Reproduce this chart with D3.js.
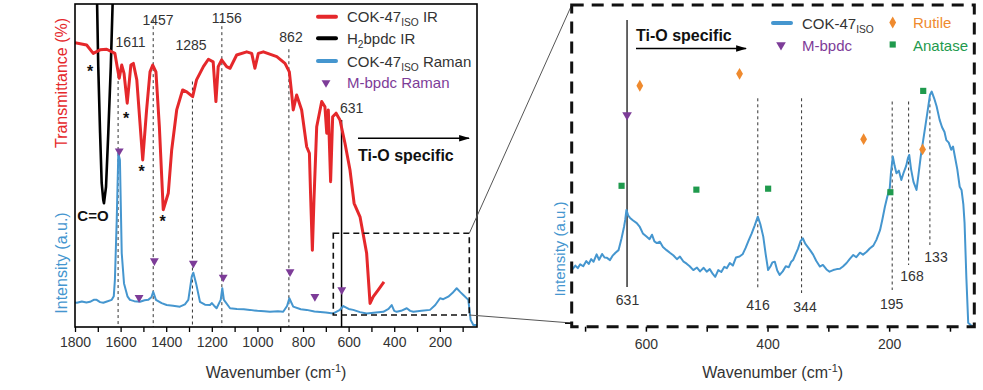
<!DOCTYPE html>
<html><head><meta charset="utf-8">
<script src="https://cdn.jsdelivr.net/npm/d3@7"></script>
<style>body{margin:0;background:#fff}svg{font-family:"Liberation Sans",Arial,sans-serif;display:block}</style>
</head><body><svg id="c" width="983" height="390"></svg>
<script>
// ---------- DATA (wavenumber cm-1, arbitrary intensity 0-100) ----------
const irCOK = [[1800,88.0],[1749,87.3],[1720,84.7],[1690,85.8],[1661,86.0],[1625,84.7],[1615,80.6],[1606,77.0],[1595,81.1],[1585,78.5],[1571,69.3],[1555,81.1],[1544,81.6],[1529,76.5],[1503,51.7],[1486,67.2],[1471,79.0],[1459,81.1],[1445,79.0],[1430,62.0],[1413,36.3],[1391,41.4],[1376,54.8],[1354,67.2],[1328,73.4],[1310,72.8],[1284,71.3],[1267,76.5],[1237,80.6],[1215,82.9],[1194,82.1],[1182,69.8],[1172,80.6],[1157,82.7],[1135,80.6],[1120,80.1],[1091,84.2],[1047,85.2],[1025,84.7],[1011,80.1],[996,84.7],[974,85.2],[915,83.7],[879,81.6],[860,79.0],[850,72.4],[843,67.2],[828,71.8],[806,67.2],[784,55.8],[772,53.8],[767,41.4],[759,23.8],[752,39.3],[740,62.0],[718,69.8],[704,68.2],[696,60.0],[689,67.2],[679,45.0],[670,65.1],[655,66.2],[638,64.1],[616,56.9],[594,48.6],[576,38.3],[550,34.1],[521,22.8],[506,7.3],[492,9.4],[470,11.5],[445,14.0]];
const irH2bpdc = [[1712,115],[1705,107.4],[1698,80.6],[1690,60.1],[1683,44.6],[1676,39.3],[1673,38.3],[1664,43.4],[1654,60.1],[1643,80.6],[1632,107.4],[1625,115]];
const ramanCOK = [[1800,7.6],[1792,7.5],[1770,7.9],[1750,7.6],[1734,7.8],[1718,8.4],[1705,8.4],[1690,7.7],[1676,7.5],[1660,7.9],[1639,8.4],[1630,9.5],[1625,14.6],[1617,33.1],[1610,53.8],[1603,51.7],[1595,22.8],[1585,13.5],[1570,9.5],[1559,8.4],[1540,8.0],[1515,7.8],[1495,8.3],[1479,8.4],[1465,9.2],[1457,10.9],[1445,8.4],[1420,7.4],[1398,6.8],[1370,6.6],[1340,6.3],[1318,7.0],[1303,8.4],[1288,15.6],[1281,16.8],[1269,13.5],[1252,7.8],[1230,6.9],[1208,6.8],[1200,7.4],[1190,6.6],[1179,5.8],[1161,8.4],[1154,12.0],[1147,8.4],[1120,5.8],[1090,5.6],[1060,5.5],[1033,5.3],[1000,5.0],[970,4.9],[945,4.7],[910,4.9],[887,4.7],[870,6.5],[860,8.9],[843,6.3],[810,5.5],[784,5.3],[750,4.8],[700,4.5],[667,4.2],[640,5.2],[623,6.5],[600,5.6],[580,5.3],[550,4.6],[521,4.2],[480,4.5],[448,4.7],[425,5.6],[411,6.8],[400,5.0],[389,4.7],[370,5.0],[345,5.8],[330,5.0],[316,4.7],[280,5.0],[243,5.3],[220,6.8],[199,8.9],[185,8.6],[163,9.4],[145,10.5],[126,12.0],[110,10.8],[97,9.9],[75,8.4],[65,2.2],[53,0.6],[38,0.6]];
const mbpdcL = [[1606,54.5],[1519,9.1],[1452,20.5],[1281,19.7],[1150,15.4],[857,17.1],[748,9.4],[630,11.5]];
const ramanZoom = [[722,17.6],[716,19.0],[712,18.2],[708,19.4],[703,18.8],[698,20.4],[694,19.5],[690,21.0],[686,20.2],[681,22.5],[677,20.8],[672,22.6],[668,21.5],[664,21.4],[659,20.7],[655,22.0],[650,23.0],[645,23.8],[640,27.5],[636,31.0],[634,33.2],[632,36.3],[629,34.5],[626,33.8],[621,33.0],[615,32.2],[610,31.0],[605,29.0],[599,28.0],[594,27.2],[590,28.6],[586,26.5],[582,26.0],[577,26.4],[572,24.8],[566,23.8],[560,22.9],[555,22.2],[549,21.0],[544,21.8],[538,20.2],[533,19.6],[528,18.8],[522,17.6],[516,18.4],[511,17.2],[505,18.3],[500,17.1],[495,17.9],[490,16.4],[486,15.5],[481,17.6],[476,17.0],[471,18.6],[467,18.2],[462,19.8],[457,19.0],[452,21.5],[446,21.8],[441,22.5],[436,24.5],[431,26.8],[426,29.0],[421,31.5],[416,34.2],[412,32.0],[407,28.0],[403,22.5],[399,17.6],[395,18.8],[392,20.0],[388,20.2],[384,17.5],[380,16.1],[375,17.2],[370,18.8],[365,18.5],[361,20.2],[358,20.7],[354,22.5],[350,24.2],[346,26.5],[342,27.5],[338,25.8],[334,24.8],[330,23.8],[325,22.4],[320,20.5],[314,18.7],[309,19.2],[303,17.8],[298,17.1],[292,17.6],[286,17.9],[281,18.0],[276,18.7],[270,19.8],[265,21.0],[259,22.3],[254,21.6],[248,23.0],[243,22.4],[237,23.3],[232,24.3],[226,25.2],[221,27.0],[215,30.0],[211,33.5],[207,37.3],[203,40.5],[199,43.1],[197,48.0],[194,52.9],[191,50.0],[188,47.7],[184,48.5],[180,45.6],[176,48.0],[172,50.0],[169,52.5],[167,53.4],[164,49.0],[160,45.0],[155,42.5],[152,47.0],[148,53.0],[144,58.0],[140,63.0],[136,68.0],[133,72.0],[130,73.1],[126,71.0],[122,68.5],[117,64.3],[113,62.0],[109,60.5],[106,58.0],[102,57.2],[98,55.0],[95,56.0],[92,53.0],[88,49.0],[84,43.5],[81,42.5],[78,38.0],[76,32.2],[73,15.0],[70,1.2],[66,0.5],[62.4,0.2]];
const rutile = [[610,74.9],[446,78.6],[242,58.3],[145,55.1]];
const anatase = [[640,43.8],[517,42.6],[399,42.9],[198,41.8],[144,73.3]];
const mbpdcR = [[631,65.8]];
const peaksL = [[1611,"1611",78],[1457,"1457",95],[1285,"1285",76],[1156,"1156",95],[862,"862",86]];
const peaksR = [[416,"416",71],[344,"344",71],[195,"195",70],[168,"168",70],[133,"133",71]];
const ticksL = d3.range(1800, 99, -100);
const ticksR = [700,600,500,400,300,200,100];

// ---------- SETUP ----------
const C = {red:"#e5282b", blue:"#4596cf", purple:"#7d3c98", orange:"#ef8a2e", green:"#1f9a4d", txt:"#333"};
const svg = d3.select("#c");
const defs = svg.append("defs");
defs.append("clipPath").attr("id","clipL").append("rect").attr("x",75).attr("y",4).attr("width",402).attr("height",323);
defs.append("marker").attr("id","arr").attr("viewBox","0 0 10 10").attr("refX",9).attr("refY",5)
  .attr("markerUnits","userSpaceOnUse").attr("markerWidth",11).attr("markerHeight",11).attr("orient","auto")
  .append("path").attr("d","M0,2L10,5L0,8Z").attr("fill","#000");

const xL = d3.scaleLinear().domain([1800, 37]).range([75, 477]);
const yL = d3.scaleLinear().domain([0, 100]).range([327, 4]);
const xR = d3.scaleLinear().domain([722, 60]).range([571.7, 974.3]);
const yR = d3.scaleLinear().domain([0, 100]).range([326.7, 5]);

function rich(g, x, y, parts, opt) {
  const t = g.append("text").attr("x", x).attr("y", y).attr("font-size", opt.size).attr("fill", opt.fill || C.txt)
    .attr("text-anchor", opt.anchor || "start").attr("font-weight", opt.weight || "normal");
  if (opt.transform) t.attr("transform", opt.transform);
  let cur = 0;
  parts.forEach(([s, k]) => {
    const target = k === "sub" ? 4 : k === "sup" ? -6 : 0;
    const ts = t.append("tspan").text(s).attr("dy", target - cur);
    if (k) ts.attr("font-size", opt.size * 0.68);
    cur = target;
  });
  return t;
}
function sym(g, type, pts, xs, ys, size, fill, rot) {
  g.selectAll(null).data(pts).enter().append("path")
    .attr("d", d3.symbol().type(type).size(size))
    .attr("transform", d => `translate(${xs(d[0])},${ys(d[1])}) rotate(${rot||0})`)
    .attr("fill", fill);
}

// ---------- LEFT PANEL ----------
const L = svg.append("g");
// peak dashed lines
peaksL.forEach(([w, lab, top]) => {
  L.append("line").attr("x1", xL(w)).attr("x2", xL(w)).attr("y1", yL(top)).attr("y2", 327)
    .attr("stroke", "#333").attr("stroke-width", 1).attr("stroke-dasharray", "3,3");
});
const labPos = {"1611":[130.5,46.5],"1457":[158,25],"1285":[191,50],"1156":[226.7,23.3],"862":[291,41.7]};
peaksL.forEach(([w, lab]) => {
  L.append("text").attr("x", labPos[lab][0]).attr("y", labPos[lab][1]).attr("text-anchor","middle")
    .attr("font-size", 14).attr("fill", C.txt).text(lab);
});
// 631 solid line
L.append("line").attr("x1", xL(631)).attr("x2", xL(631)).attr("y1", 120).attr("y2", 327).attr("stroke","#000").attr("stroke-width",1.5);
L.append("text").attr("x", 351.7).attr("y", 113.3).attr("text-anchor","middle").attr("font-size",14).attr("fill",C.txt).text("631");

const lineL = d3.line().x(d => xL(d[0])).y(d => yL(d[1]));
const clipG = L.append("g").attr("clip-path", "url(#clipL)");
clipG.append("path").datum(irH2bpdc).attr("d", lineL).attr("fill","none").attr("stroke","#000").attr("stroke-width",2.6).attr("stroke-linejoin","round");
clipG.append("path").datum(irCOK).attr("d", lineL).attr("fill","none").attr("stroke",C.red).attr("stroke-width",3).attr("stroke-linejoin","round");
clipG.append("path").datum(ramanCOK).attr("d", lineL).attr("fill","none").attr("stroke",C.blue).attr("stroke-width",2).attr("stroke-linejoin","round");
sym(L, d3.symbolTriangle, mbpdcL, xL, yL, 34, C.purple, 180);

// asterisks
[[90,68],[126,115],[141.7,168.3],[162.7,218.3]].forEach(([x,y]) => {
  L.append("text").attr("x", x).attr("y", y + 9).attr("text-anchor","middle").attr("font-size",16).attr("font-weight","bold").attr("fill","#111").text("*");
});
L.append("text").attr("x", 93).attr("y", 220.5).attr("text-anchor","middle").attr("font-size",15).attr("font-weight","bold").attr("fill","#111").text("C=O");

// Ti-O specific
L.append("line").attr("x1",358).attr("x2",469).attr("y1",138.3).attr("y2",138.3).attr("stroke","#000").attr("stroke-width",1.5).attr("marker-end","url(#arr)");
L.append("text").attr("x",358).attr("y",160.5).attr("font-size",16).attr("font-weight","bold").attr("fill","#111").text("Ti-O specific");

// zoom rect
L.append("rect").attr("x",333.3).attr("y",233.3).attr("width",136).attr("height",81.7).attr("fill","none")
  .attr("stroke","#111").attr("stroke-width",1.6).attr("stroke-dasharray","6,4");

// legend
const legL = [
  {y:16.7, color:C.red, parts:[["COK-47"],["ISO","sub"],[" IR"]], fill:C.txt},
  {y:38.3, color:"#000", parts:[["H"],["2","sub"],["bpdc IR"]], fill:C.txt},
  {y:61, color:C.blue, parts:[["COK-47"],["ISO","sub"],[" Raman"]], fill:C.txt}
];
legL.forEach(d => {
  L.append("line").attr("x1",318).attr("x2",336).attr("y1",d.y).attr("y2",d.y).attr("stroke",d.color).attr("stroke-width",4).attr("stroke-linecap","round");
  rich(L, 347, d.y + 5.5, d.parts, {size:15, fill:d.fill});
});
L.append("path").attr("d", d3.symbol().type(d3.symbolTriangle).size(34)).attr("transform","translate(326,82.7) rotate(180)").attr("fill",C.purple);
L.append("text").attr("x",347).attr("y",88.2).attr("font-size",15).attr("fill",C.purple).text("M-bpdc Raman");

// axis
const axL = L.append("g").attr("transform","translate(0,327)")
  .call(d3.axisBottom(xL).tickValues(ticksL).tickSize(5).tickPadding(5).tickFormat(d => d % 200 === 0 ? d : ""));
axL.select(".domain").remove();
axL.selectAll("line").attr("stroke","#000").attr("stroke-width",1.3);
axL.selectAll("text").attr("font-size",14).attr("fill",C.txt).attr("font-family",'"Liberation Sans",Arial,sans-serif');
// frame
L.append("rect").attr("x",75).attr("y",4).attr("width",402).attr("height",323).attr("fill","none").attr("stroke","#000").attr("stroke-width",1.6);
// titles
rich(L, 276, 378, [["Wavenumber (cm"],["-1","sup"],[")"]], {size:16, anchor:"middle"});
L.append("text").attr("transform","translate(67,83) rotate(-90)").attr("text-anchor","middle").attr("font-size",16).attr("fill",C.red).text("Transmittance (%)");
L.append("text").attr("transform","translate(67,263) rotate(-90)").attr("text-anchor","middle").attr("font-size",16).attr("fill",C.blue).text("Intensity (a.u.)");

// connecting lines
svg.append("line").attr("x1",469.3).attr("y1",233.3).attr("x2",571.7).attr("y2",5).attr("stroke","#555").attr("stroke-width",1);
svg.append("line").attr("x1",469.3).attr("y1",315).attr("x2",571.7).attr("y2",323).attr("stroke","#555").attr("stroke-width",1);

// ---------- RIGHT PANEL ----------
const R = svg.append("g");
R.append("line").attr("x1", xR(631)).attr("x2", xR(631)).attr("y1", 20).attr("y2", 287).attr("stroke","#000").attr("stroke-width",1.2);
R.append("text").attr("x", 627.5).attr("y", 305).attr("text-anchor","middle").attr("font-size",14).attr("fill",C.txt).text("631");
const labR = {"416":[758,310],"344":[805,312],"195":[891.7,309],"168":[912,281],"133":[936,262]};
const botR = {"416":290,"344":293,"195":290,"168":265,"133":245};
peaksR.forEach(([w, lab, top]) => {
  R.append("line").attr("x1", xR(w)).attr("x2", xR(w)).attr("y1", yR(top)).attr("y2", botR[lab])
    .attr("stroke","#333").attr("stroke-width",1).attr("stroke-dasharray","3,3");
  R.append("text").attr("x", labR[lab][0]).attr("y", labR[lab][1]).attr("text-anchor","middle").attr("font-size",14).attr("fill",C.txt).text(lab);
});
const lineR = d3.line().x(d => xR(d[0])).y(d => yR(d[1]));
R.append("path").datum(ramanZoom).attr("d", lineR).attr("fill","none").attr("stroke",C.blue).attr("stroke-width",2).attr("stroke-linejoin","round");
sym(R, d3.symbolDiamond, rutile, xR, yR, 40, C.orange, 0);
sym(R, d3.symbolSquare, anatase, xR, yR, 38, C.green, 0);
sym(R, d3.symbolTriangle, mbpdcR, xR, yR, 40, C.purple, 180);

// Ti-O specific
R.append("text").attr("x",636).attr("y",40.5).attr("font-size",16).attr("font-weight","bold").attr("fill","#111").text("Ti-O specific");
R.append("line").attr("x1",636).attr("x2",746).attr("y1",48.5).attr("y2",48.5).attr("stroke","#000").attr("stroke-width",1.5).attr("marker-end","url(#arr)");

// legend
R.append("line").attr("x1",773).attr("x2",791).attr("y1",23).attr("y2",23).attr("stroke",C.blue).attr("stroke-width",4).attr("stroke-linecap","round");
rich(R, 802, 28.5, [["COK-47"],["ISO","sub"]], {size:15});
R.append("path").attr("d", d3.symbol().type(d3.symbolTriangle).size(40)).attr("transform","translate(781,45) rotate(180)").attr("fill",C.purple);
R.append("text").attr("x",802).attr("y",50.5).attr("font-size",15).attr("fill",C.purple).text("M-bpdc");
R.append("path").attr("d", d3.symbol().type(d3.symbolDiamond).size(40)).attr("transform","translate(892.7,22.5)").attr("fill",C.orange);
R.append("text").attr("x",913).attr("y",28).attr("font-size",15).attr("fill",C.orange).text("Rutile");
R.append("path").attr("d", d3.symbol().type(d3.symbolSquare).size(38)).attr("transform","translate(892.7,44.5)").attr("fill",C.green);
R.append("text").attr("x",913).attr("y",50.5).attr("font-size",15).attr("fill",C.green).text("Anatase");

// axis
const axR = R.append("g").attr("transform","translate(0,326.7)")
  .call(d3.axisBottom(xR).tickValues(ticksR).tickSize(5).tickPadding(7).tickFormat(d => d % 200 === 0 ? d : ""));
axR.select(".domain").remove();
axR.selectAll("line").attr("stroke","#000").attr("stroke-width",1.5);
axR.selectAll("text").attr("font-size",14).attr("fill",C.txt).attr("font-family",'"Liberation Sans",Arial,sans-serif');
R.append("line").attr("x1",565).attr("x2",571.7).attr("y1",323.3).attr("y2",323.3).attr("stroke","#000").attr("stroke-width",1.3);
// dashed frame
R.append("rect").attr("x",571.7).attr("y",5).attr("width",402.6).attr("height",321.7).attr("fill","none")
  .attr("stroke","#111").attr("stroke-width",3).attr("stroke-dasharray","12,8");
rich(R, 772.7, 378, [["Wavenumber (cm"],["-1","sup"],[")"]], {size:16, anchor:"middle"});
R.append("text").attr("transform","translate(565,249) rotate(-90)").attr("text-anchor","middle").attr("font-size",15).attr("fill",C.blue).text("Intensity (a.u.)");
</script>
</body></html>
